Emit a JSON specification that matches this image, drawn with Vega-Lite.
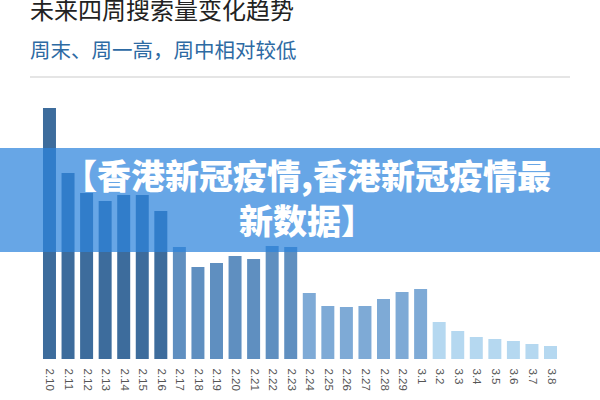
{
  "$schema": "https://vega.github.io/schema/vega-lite/v6.json",
  "autosize": {"type": "none"},
  "width": 600,
  "height": 282,
  "padding": {"top": 77, "left": 0, "right": 0, "bottom": 41},
  "background": "#ffffff",
  "title": {
    "text": "未来四周搜索量变化趋势",
    "subtitle": "周末、周一高，周中相对较低",
    "anchor": "start",
    "frame": "group",
    "dx": 30,
    "offset": 14,
    "font": "Noto Sans CJK SC",
    "fontSize": 24,
    "fontWeight": "normal",
    "color": "#222222",
    "subtitleFont": "Noto Sans CJK SC",
    "subtitleFontSize": 20.5,
    "subtitleColor": "#2d6aa3",
    "subtitlePadding": 18
  },
  "config": {"view": {"stroke": null}},
  "layer": [
    {
      "data": {
        "values": [
          {"date": "2.10", "week": "w1", "value": 251},
          {"date": "2.11", "week": "w1", "value": 186},
          {"date": "2.12", "week": "w1", "value": 166},
          {"date": "2.13", "week": "w1", "value": 158},
          {"date": "2.14", "week": "w1", "value": 164},
          {"date": "2.15", "week": "w1", "value": 164},
          {"date": "2.16", "week": "w1", "value": 148},
          {"date": "2.17", "week": "w2", "value": 112},
          {"date": "2.18", "week": "w2", "value": 92},
          {"date": "2.19", "week": "w2", "value": 96},
          {"date": "2.20", "week": "w2", "value": 103},
          {"date": "2.21", "week": "w2", "value": 100},
          {"date": "2.22", "week": "w2", "value": 113},
          {"date": "2.23", "week": "w2", "value": 112},
          {"date": "2.24", "week": "w3", "value": 66},
          {"date": "2.25", "week": "w3", "value": 53},
          {"date": "2.26", "week": "w3", "value": 52},
          {"date": "2.27", "week": "w3", "value": 53},
          {"date": "2.28", "week": "w3", "value": 60},
          {"date": "2.29", "week": "w3", "value": 67},
          {"date": "3.1", "week": "w3", "value": 70},
          {"date": "3.2", "week": "w4", "value": 37},
          {"date": "3.3", "week": "w4", "value": 28},
          {"date": "3.4", "week": "w4", "value": 22},
          {"date": "3.5", "week": "w4", "value": 20},
          {"date": "3.6", "week": "w4", "value": 18},
          {"date": "3.7", "week": "w4", "value": 15},
          {"date": "3.8", "week": "w4", "value": 13}
        ]
      },
      "mark": {"type": "bar"},
      "encoding": {
        "x": {
          "field": "date",
          "type": "ordinal",
          "sort": null,
          "scale": {"range": [30, 570], "paddingInner": 0.3, "paddingOuter": 0.7},
          "axis": {
            "title": null,
            "labelAngle": 90,
            "labelAlign": "left",
            "labelBaseline": "middle",
            "labelFont": "Liberation Sans",
            "labelFontSize": 11.5,
            "labelColor": "#555555",
            "labelPadding": 9,
            "ticks": false,
            "domain": false
          }
        },
        "y": {
          "field": "value",
          "type": "quantitative",
          "scale": {"domain": [0, 282], "nice": false},
          "axis": null
        },
        "color": {
          "field": "week",
          "type": "nominal",
          "scale": {"domain": ["w1", "w2", "w3", "w4"], "range": ["#3d6c9c", "#5f8fc0", "#7eaad6", "#b5d8f0"]},
          "legend": null
        }
      }
    },
    {
      "data": {"values": [{}]},
      "mark": {"type": "rule", "color": "#dddddd", "strokeWidth": 1.5, "xOffset": -13, "x2Offset": 13},
      "encoding": {
        "x": {"datum": "2.10", "type": "ordinal", "bandPosition": 0},
        "x2": {"datum": "3.8", "bandPosition": 1},
        "y": {"datum": 282}
      }
    },
    {
      "data": {"values": [{}]},
      "mark": {"type": "rect", "fill": "#2c83dc", "fillOpacity": 0.72},
      "encoding": {
        "y": {"datum": 107},
        "y2": {"datum": 211}
      }
    },
    {
      "data": {"values": [{}]},
      "mark": {
        "type": "text",
        "text": ["【香港新冠疫情,香港新冠疫情最", "新数据】"],
        "font": "Noto Sans CJK SC",
        "fontSize": 34,
        "fontWeight": 900,
        "color": "#ffffff",
        "align": "center",
        "baseline": "middle",
        "lineHeight": 45,
        "dx": 7
      },
      "encoding": {
        "y": {"datum": 180}
      }
    }
  ]
}
